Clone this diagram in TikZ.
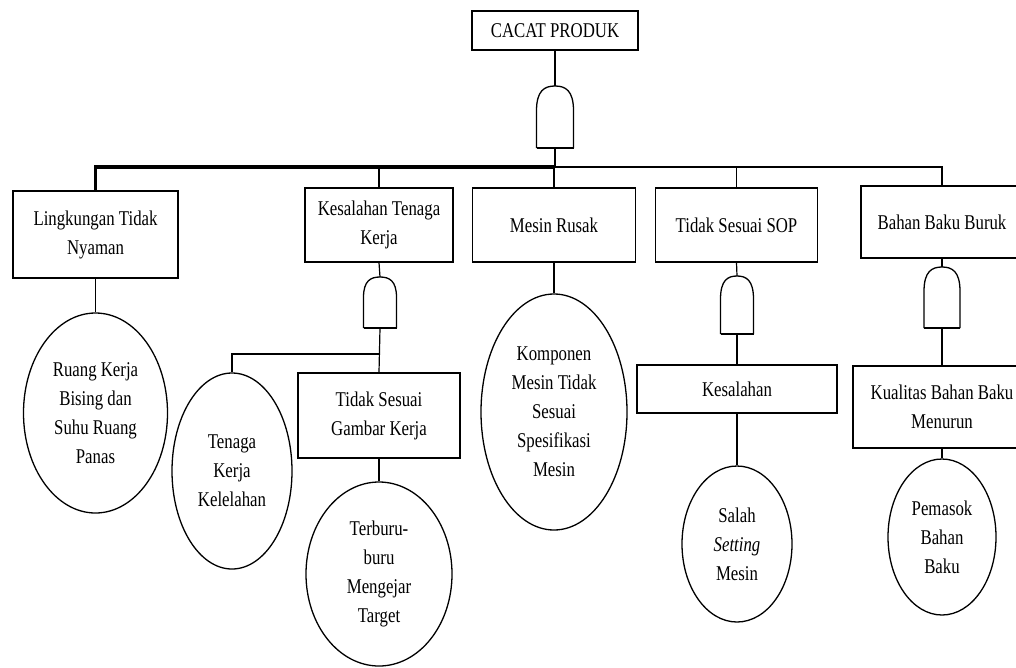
\documentclass[tikz,border=0pt]{standalone}
\usepackage{fontspec}
\setmainfont[FakeStretch=0.8]{Liberation Serif}
\usetikzlibrary{shapes.geometric}
\begin{document}
\begin{tikzpicture}[x=1pt,y=-1pt,
  font=\fontsize{21}{29}\selectfont,
  boxnode/.style={draw,line width=1.4pt,rectangle,inner sep=0pt,align=center},
  ovalnode/.style={draw,line width=1.3pt,ellipse,inner sep=0pt,align=center},
  conn/.style={line width=1.2pt},
  busline/.style={line width=3.2pt},
  gateline/.style={line width=1.3pt},
  gatebase/.style={line width=2.6pt},
  pics/andgate/.style args={#1/#2}{code={
    \draw[gateline] (-#1/2,0) -- (-#1/2,{-#2*0.6})
      .. controls (-#1/2,{-#2*0.93}) and ({-#1*0.28},-#2) .. (0,-#2)
      .. controls ({#1*0.28},-#2) and (#1/2,{-#2*0.93}) .. (#1/2,{-#2*0.6})
      -- (#1/2,0);
    \draw[gatebase] (-#1/2,0) -- (#1/2,0);
    \coordinate (-top) at (0,-#2);
    \coordinate (-bot) at (0,0);
  }}
]
\useasboundingbox (0,0) rectangle (1016,667);

% top event
\node[boxnode,minimum width=166pt,minimum height=39pt] (top) at (555,30.5) {CACAT PRODUK};
\pic (g0) at (555,148) {andgate=37/62};

% level 1 boxes
\node[boxnode,minimum width=165pt,minimum height=87pt] (b1) at (95.5,234.5) {Lingkungan Tidak\\Nyaman};
\node[boxnode,minimum width=148pt,minimum height=74pt] (b2) at (379,225) {Kesalahan Tenaga\\Kerja};
\node[boxnode,minimum width=163pt,minimum height=74pt] (b3) at (554,225) {Mesin Rusak};
\node[boxnode,minimum width=162pt,minimum height=74pt] (b4) at (736.5,225) {Tidak Sesuai SOP};
\node[boxnode,minimum width=162pt,minimum height=72pt] (b5) at (942,222) {Bahan Baku Buruk};

\coordinate (j0) at (555,167);

% gates under level 1
\pic (g1) at (380,328) {andgate=33/51};
\pic (g2) at (737,334) {andgate=33/58};
\pic (g3) at (942,328) {andgate=36/61};

% level 2 boxes
\node[boxnode,minimum width=162pt,minimum height=85pt] (b6) at (379,415.5) {Tidak Sesuai\\Gambar Kerja};
\node[boxnode,minimum width=200pt,minimum height=48pt] (b7) at (737,389) {Kesalahan};
\node[boxnode,minimum width=178pt,minimum height=82pt] (b8) at (942,407) {Kualitas Bahan Baku\\Menurun};

% basic events
\node[ovalnode,minimum width=144pt,minimum height=200pt] (e1) at (95.5,413) {Ruang Kerja\\Bising dan\\Suhu Ruang\\Panas};
\node[ovalnode,minimum width=120pt,minimum height=196pt] (e2) at (232,471) {Tenaga\\Kerja\\Kelelahan};
\node[ovalnode,minimum width=146pt,minimum height=184pt] (e3) at (379,574) {Terburu-\\buru\\Mengejar\\Target};
\node[ovalnode,minimum width=146pt,minimum height=236pt] (e4) at (554,412) {Komponen\\Mesin Tidak\\Sesuai\\Spesifikasi\\Mesin};
\node[ovalnode,minimum width=110pt,minimum height=156pt] (e5) at (737,544) {Salah\\\textit{Setting}\\Mesin};
\node[ovalnode,minimum width=108pt,minimum height=156pt] (e6) at (942,537) {Pemasok\\Bahan\\Baku};

% connectors
\draw[conn] (top.south) -- (g0-top);
\draw[conn] (g0-bot) -- (j0);
\draw[busline] (j0) -| (b1.north);
\draw[conn] (j0) -| (b5.north);
\draw[conn] (b2.north) -- (b2.north |- j0);
\draw[conn] (b3.north) -- (b3.north |- j0);
\draw[conn] (b4.north) -- (b4.north |- j0);

\draw[conn] (b1.south) -- (e1.north);
\draw[conn] (b2.south) -- (g1-top);
\coordinate (j1) at (380,354);
\draw[conn] (g1-bot) -- (b6.north);
\draw[conn] (j1) -| (e2.north);
\draw[conn] (b6.south) -- (e3.north);
\draw[conn] (b3.south) -- (e4.north);
\draw[conn] (b4.south) -- (g2-top);
\draw[conn] (g2-bot) -- (b7.north);
\draw[conn] (b7.south) -- (e5.north);
\draw[conn] (b5.south) -- (g3-top);
\draw[conn] (g3-bot) -- (b8.north);
\draw[conn] (b8.south) -- (e6.north);
\end{tikzpicture}
\end{document}
